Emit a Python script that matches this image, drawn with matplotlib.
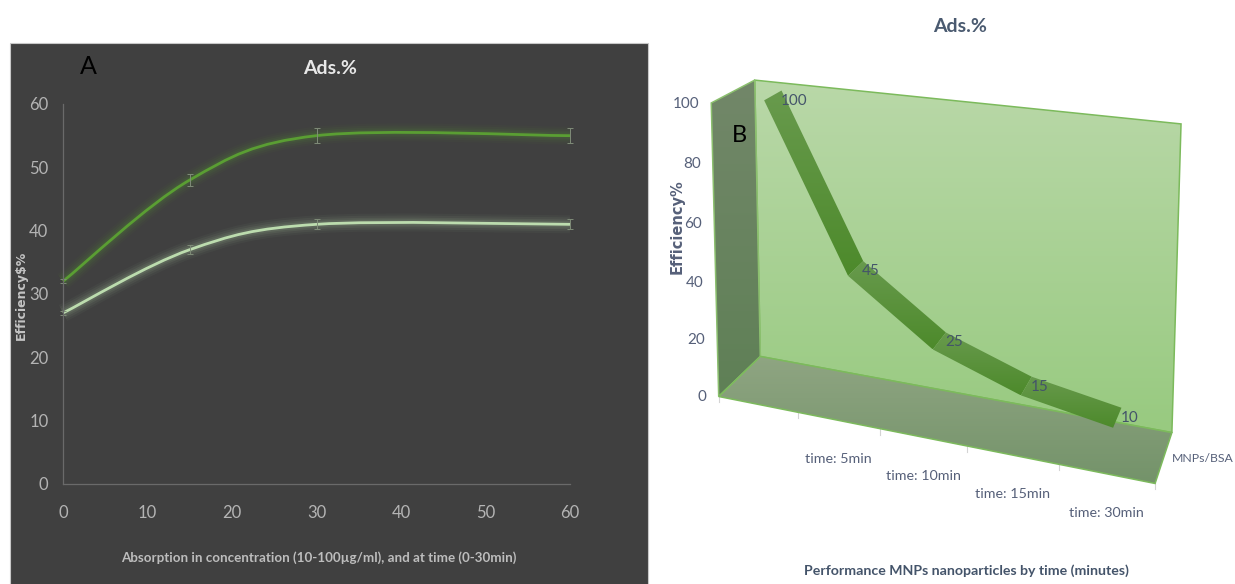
import numpy as np
import matplotlib
matplotlib.use('Agg')
import matplotlib.pyplot as plt
from matplotlib.patches import Polygon, PathPatch, Rectangle
from matplotlib.path import Path

# Panel A data
x_a = [0, 15, 30, 60]
green_a = [32, 48, 55, 55]
pale_a = [27, 37, 41, 41]
err_green = [0.3, 1.0, 1.2, 1.2]
err_pale = [0.3, 0.7, 0.8, 0.8]
x_ticks_a = [0, 10, 20, 30, 40, 50, 60]
y_ticks_a = [0, 10, 20, 30, 40, 50, 60]

# Panel B data
values_b = [100, 45, 25, 15, 10]
cats_b = ['', 'time: 5min', 'time: 10min', 'time: 15min', 'time: 30min']
y_ticks_b = [0, 20, 40, 60, 80, 100]

plt.rcParams['font.family'] = ['Lato', 'DejaVu Sans']
W, H = 1235, 584
fig = plt.figure(figsize=(W / 100, H / 100), dpi=100, facecolor='white')

# pixel canvas for the whole picture
bg = fig.add_axes([0, 0, 1, 1])
bg.set_xlim(0, W)
bg.set_ylim(H, 0)
bg.axis('off')
bg.add_patch(Rectangle((10, 43), 638, 545, fc='#404040', ec='#c8c8c8', lw=0.8))

# ---- Panel A ----
ax = fig.add_axes([63 / W, 1 - 484 / H, (570 - 63) / W, (484 - 104) / H])
ax.patch.set_alpha(0)
ax.set_xlim(0, 60)
ax.set_ylim(0, 60)
for s in ['top', 'right']:
    ax.spines[s].set_visible(False)
for s in ['left', 'bottom']:
    ax.spines[s].set_color('#6a6a6a')
    ax.spines[s].set_linewidth(0.9)
ax.set_xticks(x_ticks_a)
ax.set_yticks(y_ticks_a)
ax.tick_params(length=0, colors='#b4b4b4', labelsize=12)
ax.tick_params(axis='x', pad=15)
ax.tick_params(axis='y', pad=10.5)


def smooth_path(xs, ys):
    # same kind of smoothing as the spreadsheet line: bezier through the points
    xs, ys = np.array(xs, float), np.array(ys, float)
    verts = [(xs[0], ys[0])]
    codes = [Path.MOVETO]
    n = len(xs)
    for i in range(n - 1):
        p = max(i - 1, 0)
        q = min(i + 2, n - 1)
        verts.append((xs[i] + (xs[i + 1] - xs[p]) / 6, ys[i] + (ys[i + 1] - ys[p]) / 6))
        verts.append((xs[i + 1] - (xs[q] - xs[i]) / 6, ys[i + 1] - (ys[q] - ys[i]) / 6))
        verts.append((xs[i + 1], ys[i + 1]))
        codes += [Path.CURVE4] * 3
    return Path(verts, codes)


for ys, errs, col in [(green_a, err_green, '#5a9e33'), (pale_a, err_pale, '#bcdcae')]:
    path = smooth_path(x_a, ys)
    for lw, al in [(13, 0.04), (10, 0.06), (7, 0.08), (4.5, 0.1)]:
        ax.add_patch(PathPatch(path, fc='none', ec=col, lw=lw, alpha=al, clip_on=False))
    ax.add_patch(PathPatch(path, fc='none', ec=col, lw=2, clip_on=False))
    ax.errorbar(x_a, ys, yerr=errs, fmt='none', ecolor='#7f8c78', elinewidth=0.7,
                capsize=2, capthick=0.7, clip_on=False)

bg.text(88, 67, 'A', fontsize=18, color='black', ha='center', va='center', zorder=5)
bg.text(330, 69, 'Ads.%', fontsize=14, fontweight='bold', color='#e8e8e8', ha='center', va='center')
bg.text(21, 295, r'Efficiency\$%', fontsize=9, fontweight='bold', color='#c4c4c4',
        family='DejaVu Sans', rotation=90, ha='center', va='center')
bg.text(319, 558, 'Absorption in concentration (10-100µg/ml), and at time (0-30min)', fontsize=9.6,
        fontweight='bold', color='#bdbdbd', ha='center', va='center')

# ---- Panel B ----
# projective map from (category position, depth, value) to picture pixels,
# fitted on the corners of the chart box
box_src = [(0, 0, 0), (0, 1, 0), (0, 0, 100), (0, 1, 100), (1, 1, 100), (1, 1, 0), (1, 0, 0)]
box_dst = [(719, 396), (760, 357), (711, 103), (755, 80), (1181, 124), (1172, 432), (1155, 484)]
A, b = [], []
for (u, d, v), (px, py) in zip(box_src, box_dst):
    v = v / 100
    A.append([u, d, v, 1, 0, 0, 0, 0, -px * u, -px * d, -px * v])
    b.append(px)
    A.append([0, 0, 0, 0, u, d, v, 1, -py * u, -py * d, -py * v])
    b.append(py)
m = np.linalg.lstsq(np.array(A, float), np.array(b, float), rcond=None)[0]


def proj(u, d, v):
    v = v / 100
    w = m[8] * u + m[9] * d + m[10] * v + 1
    return ((m[0] * u + m[1] * d + m[2] * v + m[3]) / w,
            (m[4] * u + m[5] * d + m[6] * v + m[7]) / w)


def grad_poly(verts, c1, c2, z=1, edge=None):
    # polygon filled with a vertical gradient, imshow clipped to the shape
    verts = np.array(verts)
    c1 = np.array(matplotlib.colors.to_rgb(c1))
    c2 = np.array(matplotlib.colors.to_rgb(c2))
    t = np.linspace(0, 1, 64)
    img = (c1[None, :] + (c2 - c1)[None, :] * t[:, None])[:, None, :]
    x0, x1, y0, y1 = verts[:, 0].min(), verts[:, 0].max(), verts[:, 1].min(), verts[:, 1].max()
    im = bg.imshow(img, extent=[x0, x1, y1, y0], aspect='auto', zorder=z, interpolation='bilinear')
    poly = Polygon(verts, closed=True, fc='none', ec=edge if edge else 'none', lw=1.1, zorder=z + 0.1)
    bg.add_patch(poly)
    im.set_clip_path(poly)


edge_col = '#7cba5c'
grad_poly([proj(1, 1, 100), proj(0, 1, 100), proj(0, 1, 0), proj(1, 1, 0)], '#b9d8a8', '#98ca80', z=1, edge=edge_col)
grad_poly([proj(0, 0, 100), proj(0, 1, 100), proj(0, 1, 0), proj(0, 0, 0)], '#728769', '#5f8056', z=2, edge='#8cc06f')
grad_poly([proj(0, 0, 0), proj(0, 1, 0), proj(1, 1, 0), proj(1, 0, 0)], '#8fa582', '#74936a', z=2, edge=edge_col)

# ribbon line through the values, one band per segment
n = len(values_b)
d0, d1 = 0.29, 0.71
for i in range(n - 1):
    u0, u1 = (i + 0.5) / n, (i + 1.5) / n
    seg = [proj(u0, d0, values_b[i]), proj(u0, d1, values_b[i]),
           proj(u1, d1, values_b[i + 1]), proj(u1, d0, values_b[i + 1])]
    grad_poly(seg, '#689a4d', '#4d8a2b', z=3)

# axis ticks and labels
for i in range(n + 1):
    px, py = proj(i / n, 0, 0)
    bg.plot([px, px], [py, py + 6], color='#d4d4d4', lw=0.8, zorder=2)
for v in y_ticks_b:
    px, py = proj(0, 0, v)
    bg.text(px - 12, py + 1, str(v), fontsize=11, color='#566079', ha='right', va='center')
for i, lab in enumerate(cats_b):
    px, py = proj((i + 0.5) / n, 0, 0)
    bg.text(px, py + 39, lab, fontsize=10.3, color='#566079', ha='center', va='center')
for i, val in enumerate(values_b):
    px, py = proj((i + 0.5) / n, d1, val)
    bg.text(px - 1, py + 10, str(val), fontsize=11, color='#44546a', ha='left', va='center', zorder=6)

bg.text(1203, 458, 'MNPs/BSA', fontsize=8.8, color='#566079', ha='center', va='center')
bg.text(739, 135, 'B', fontsize=17, color='black', ha='center', va='center', zorder=6)
bg.text(960, 27, 'Ads.%', fontsize=14, fontweight='bold', color='#4a5a70', ha='center', va='center')
bg.text(677, 227, 'Efficiency%', fontsize=10.5, fontweight='bold', color='#566079', family='DejaVu Sans',
        rotation=90, ha='center', va='center')
bg.text(966, 571, 'Performance MNPs nanoparticles by time (minutes)', fontsize=10.2, fontweight='bold',
        color='#44546a', ha='center', va='center')

bg.set_xlim(0, W)
bg.set_ylim(H, 0)
fig.savefig('out.png', dpi=100)
